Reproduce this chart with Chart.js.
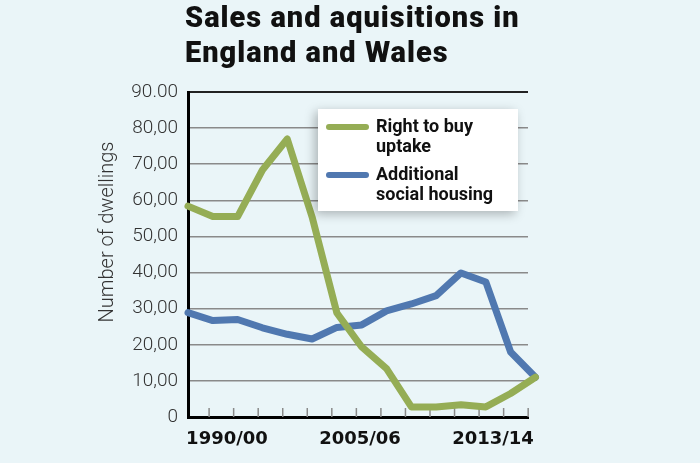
<!DOCTYPE html>
<html>
<head>
<meta charset="utf-8">
<script src="https://cdn.jsdelivr.net/npm/chart.js@4"></script>
<style>
  html, body { margin: 0; padding: 0; background: #eaf5f8; }
  #wrap { position: relative; width: 700px; height: 463px; }
  #title {
    position: absolute; left: 185px; top: 0px;
    font-family: Roboto, sans-serif; font-weight: 900; font-size: 29px;
    line-height: 35px; color: #111; letter-spacing: 1px;
  }
</style>
</head>
<body>
<div id="wrap">
  <canvas id="chart" width="700" height="463"></canvas>
  <div id="title">Sales and aquisitions in<br>England and Wales</div>
</div>
<script>
// Data
const rightToBuy = [58.4, 55.5, 55.5, 68.4, 77.0, 55.4, 28.8, 19.4, 13.4, 2.8, 2.8, 3.4, 2.8, 6.5, 11.0];
const socialHousing = [28.9, 26.7, 27.0, 24.7, 22.9, 21.6, 24.8, 25.5, 29.4, 31.3, 33.6, 39.9, 37.4, 18.0, 11.0];
const seriesNames = [['Right to buy', 'uptake'], ['Additional', 'social housing']];
const yTickLabels = ['0', '10,00', '20,00', '30,00', '40,00', '50,00', '60,00', '70,00', '80,00', '90.00'];
const xTickLabels = ['1990/00', '2005/06', '2013/14'];
const xLabelAt = [1.57, 6.93, 12.29];
const yAxisTitle = 'Number of dwellings';

const green = '#95ad55';
const blue = '#5078b0';

// small tick marks standing on the x axis
const tickMarks = {
  id: 'tickMarks',
  beforeDatasetsDraw(chart) {
    const ctx = chart.ctx;
    const x = chart.scales.x;
    const bottom = chart.chartArea.bottom;
    ctx.save();
    ctx.strokeStyle = '#8a8a8a';
    ctx.lineWidth = 1.5;
    for (let k = 0; k < 14; k++) {
      const px = x.getPixelForValue(0.85 + k * 0.989);
      ctx.beginPath();
      ctx.moveTo(px, bottom - 9);
      ctx.lineTo(px, bottom);
      ctx.stroke();
    }
    ctx.restore();
  }
};

// y axis title, sits a bit above the middle of the axis
const yTitle = {
  id: 'yTitle',
  afterDraw(chart) {
    const ctx = chart.ctx;
    ctx.save();
    ctx.translate(108, 232);
    ctx.rotate(-Math.PI / 2);
    ctx.fillStyle = '#333';
    ctx.font = '300 20px Roboto, sans-serif';
    ctx.textAlign = 'center';
    ctx.textBaseline = 'middle';
    ctx.fillText(yAxisTitle, 0, 0);
    ctx.restore();
  }
};

// boxed legend with two-line labels
const boxLegend = {
  id: 'boxLegend',
  afterDatasetsDraw(chart) {
    const ctx = chart.ctx;
    const bx = 318, by = 109, bw = 200, bh = 102;
    ctx.save();
    ctx.shadowColor = 'rgba(0,0,0,0.28)';
    ctx.shadowBlur = 10;
    ctx.shadowOffsetX = -3;
    ctx.shadowOffsetY = 3;
    ctx.fillStyle = '#ffffff';
    ctx.fillRect(bx, by, bw, bh);
    ctx.restore();

    ctx.save();
    chart.data.datasets.forEach((ds, i) => {
      const y0 = by + 18 + i * 48;
      ctx.strokeStyle = ds.borderColor;
      ctx.lineWidth = 6;
      ctx.lineCap = 'round';
      ctx.beginPath();
      ctx.moveTo(bx + 11, y0);
      ctx.lineTo(bx + 48, y0);
      ctx.stroke();
      ctx.fillStyle = '#111';
      ctx.font = 'bold 18px Roboto, sans-serif';
      ctx.textBaseline = 'alphabetic';
      ds.label.forEach((line, j) => {
        ctx.fillText(line, bx + 58, y0 + 5 + j * 20);
      });
    });
    ctx.restore();
  }
};

const ctx = document.getElementById('chart').getContext('2d');
const chart = new Chart(ctx, {
  type: 'line',
  data: {
    datasets: [
      {
        label: seriesNames[0],
        data: rightToBuy.map((v, i) => ({ x: i, y: v })),
        borderColor: green,
        borderWidth: 7,
        pointRadius: 0,
        tension: 0,
        borderJoinStyle: 'round',
        borderCapStyle: 'round',
        clip: false
      },
      {
        label: seriesNames[1],
        data: socialHousing.map((v, i) => ({ x: i, y: v })),
        borderColor: blue,
        borderWidth: 7,
        pointRadius: 0,
        tension: 0,
        borderJoinStyle: 'round',
        borderCapStyle: 'round',
        clip: false
      }
    ]
  },
  options: {
    responsive: false,
    animation: false,
    events: [],
    layout: { padding: { left: 97, top: 92, right: 172, bottom: 0 } },
    plugins: {
      legend: { display: false },
      tooltip: { enabled: false }
    },
    scales: {
      x: {
        type: 'linear',
        min: 0,
        max: 13.7,
        afterBuildTicks(scale) {
          scale.ticks = xLabelAt.map(v => ({ value: v }));
        },
        afterFit(scale) { scale.height = 46; },
        grid: { display: false, drawTicks: false },
        border: { display: true, color: '#000', width: 3 },
        ticks: {
          autoSkip: false,
          maxRotation: 0,
          padding: 12,
          color: '#111',
          font: { family: 'DejaVu Sans', weight: 'bold', size: 18 },
          callback: (v, i) => xTickLabels[i]
        }
      },
      y: {
        min: 0,
        max: 90,
        afterFit(scale) { scale.width = 91; },
        grid: {
          drawTicks: false,
          color: c => c.tick.value === 90 ? '#222' : '#8a8a8a',
          lineWidth: c => c.tick.value === 90 ? 2 : 1.5
        },
        border: { display: true, color: '#000', width: 3 },
        ticks: {
          stepSize: 10,
          padding: 10,
          color: '#333',
          font: { family: 'Roboto', weight: 300, size: 19 },
          callback: (v, i) => yTickLabels[i]
        }
      }
    }
  },
  plugins: [tickMarks, yTitle, boxLegend]
});
</script>
</body>
</html>
